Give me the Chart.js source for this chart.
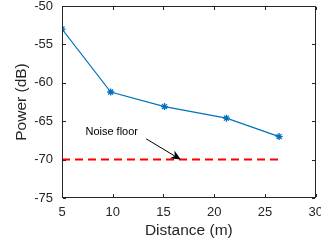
<!DOCTYPE html>
<html>
<head>
<meta charset="utf-8">
<script src="https://cdn.jsdelivr.net/npm/chart.js@4/dist/chart.umd.min.js"></script>
<style>
html,body{margin:0;padding:0;background:#fff;}
</style>
</head>
<body>
<canvas id="c" width="321" height="247"></canvas>
<script>
// Data
const distances = [5, 9.8, 15.1, 21.2, 26.4];
const power = [-53.0, -61.2, -63.1, -64.6, -67.0];
const noiseX = [5, 26.4];
const noiseY = [-70, -70];
const xTicks = [5, 10, 15, 20, 25, 30];
const yTicks = [-50, -55, -60, -65, -70, -75];
const noteText = "Noise floor";
const notePos = {x: 9.9, y: -66.4};
const arrowFrom = {x: 13.3, y: -67.3};
const arrowTo = {x: 16.7, y: -70};

const FONT = "'Liberation Sans', Arial, Helvetica, sans-serif";
const AXC = '#262626';

const boxPlugin = {
  id: 'boxTicks',
  afterDraw(chart) {
    const ctx = chart.ctx, a = chart.chartArea;
    const xs = chart.scales.x, ys = chart.scales.y;
    ctx.save();
    ctx.setLineDash([]);
    const l = Math.round(a.left), r = Math.round(a.right);
    const t = Math.round(a.top), b = Math.round(a.bottom);
    ctx.fillStyle = AXC;
    // box
    ctx.fillRect(l, t, r - l, 1);
    ctx.fillRect(l, b - 1, r - l, 1);
    ctx.fillRect(l, t, 1, b - t);
    ctx.fillRect(r - 1, t, 1, b - t);
    // inward ticks
    const L = 3;
    xTicks.forEach(v => {
      const px = Math.round(xs.getPixelForValue(v));
      ctx.fillRect(px, b - 1 - L, 1, L);
      ctx.fillRect(px, t + 1, 1, L);
    });
    yTicks.forEach(v => {
      const py = Math.round(ys.getPixelForValue(v));
      ctx.fillRect(l + 1, py, L, 1);
      ctx.fillRect(r - 1 - L, py, L, 1);
    });

    // annotation text
    ctx.fillStyle = '#000';
    ctx.font = '11px ' + FONT;
    ctx.textAlign = 'center';
    ctx.textBaseline = 'middle';
    ctx.fillText(noteText, xs.getPixelForValue(notePos.x), ys.getPixelForValue(notePos.y));

    // annotation arrow
    const x0 = xs.getPixelForValue(arrowFrom.x), y0 = ys.getPixelForValue(arrowFrom.y);
    const x1 = xs.getPixelForValue(arrowTo.x), y1 = ys.getPixelForValue(arrowTo.y);
    const ang = Math.atan2(y1 - y0, x1 - x0);
    const hl = 10, hw = 4.5, back = 7;
    const bx = x1 - back * Math.cos(ang), by = y1 - back * Math.sin(ang);
    ctx.strokeStyle = '#000';
    ctx.lineWidth = 1;
    ctx.beginPath();
    ctx.moveTo(x0, y0); ctx.lineTo(bx, by);
    ctx.stroke();
    const hx = x1 - hl * Math.cos(ang), hy = y1 - hl * Math.sin(ang);
    const nx = -Math.sin(ang), ny = Math.cos(ang);
    ctx.beginPath();
    ctx.moveTo(x1, y1);
    ctx.lineTo(hx + nx * hw, hy + ny * hw);
    ctx.lineTo(bx, by);
    ctx.lineTo(hx - nx * hw, hy - ny * hw);
    ctx.closePath();
    ctx.fill();
    ctx.restore();
  }
};

new Chart(document.getElementById('c'), {
  type: 'scatter',
  data: {
    datasets: [
      {
        label: 'Power',
        data: distances.map((d, i) => ({x: d, y: power[i]})),
        showLine: true,
        borderColor: '#0072BD',
        backgroundColor: '#0072BD',
        borderWidth: 1.2,
        pointStyle: 'star',
        pointRadius: 3.5,
        pointBorderWidth: 1.3,
        pointBorderColor: '#0072BD',
        order: 1
      },
      {
        label: 'Noise floor',
        data: noiseX.map((d, i) => ({x: d, y: noiseY[i]})),
        showLine: true,
        borderColor: '#FF0000',
        borderWidth: 2,
        borderDash: [8, 5],
        pointRadius: 0,
        order: 2
      }
    ]
  },
  options: {
    responsive: false,
    animation: false,
    devicePixelRatio: 1,
    layout: {padding: {top: 6, right: 5, left: 0, bottom: 0}},
    plugins: {legend: {display: false}, tooltip: {enabled: false}},
    scales: {
      x: {
        type: 'linear',
        min: 5, max: 30,
        afterBuildTicks: s => { s.ticks = xTicks.map(v => ({value: v})); },
        afterFit: s => { s.height = 49; s.paddingLeft = 0; s.paddingRight = 0; },
        grid: {display: false, drawTicks: false},
        border: {display: false},
        ticks: {color: AXC, font: {family: FONT, size: 13}, padding: 7, maxRotation: 0, autoSkip: false},
        title: {display: true, text: 'Distance (m)', color: AXC, font: {family: FONT, size: 15.5}, padding: {top: 0, bottom: 7}}
      },
      y: {
        type: 'linear',
        min: -75, max: -50,
        afterBuildTicks: s => { s.ticks = yTicks.map(v => ({value: v})); },
        afterFit: s => { s.width = 62; s.paddingTop = 0; s.paddingBottom = 0; },
        grid: {display: false, drawTicks: false},
        border: {display: false},
        ticks: {color: AXC, font: {family: FONT, size: 13}, padding: 9, autoSkip: false},
        title: {display: true, text: 'Power (dB)', color: AXC, font: {family: FONT, size: 15.5}, padding: {top: 12, bottom: 0}}
      }
    }
  },
  plugins: [boxPlugin]
});
</script>
</body>
</html>
